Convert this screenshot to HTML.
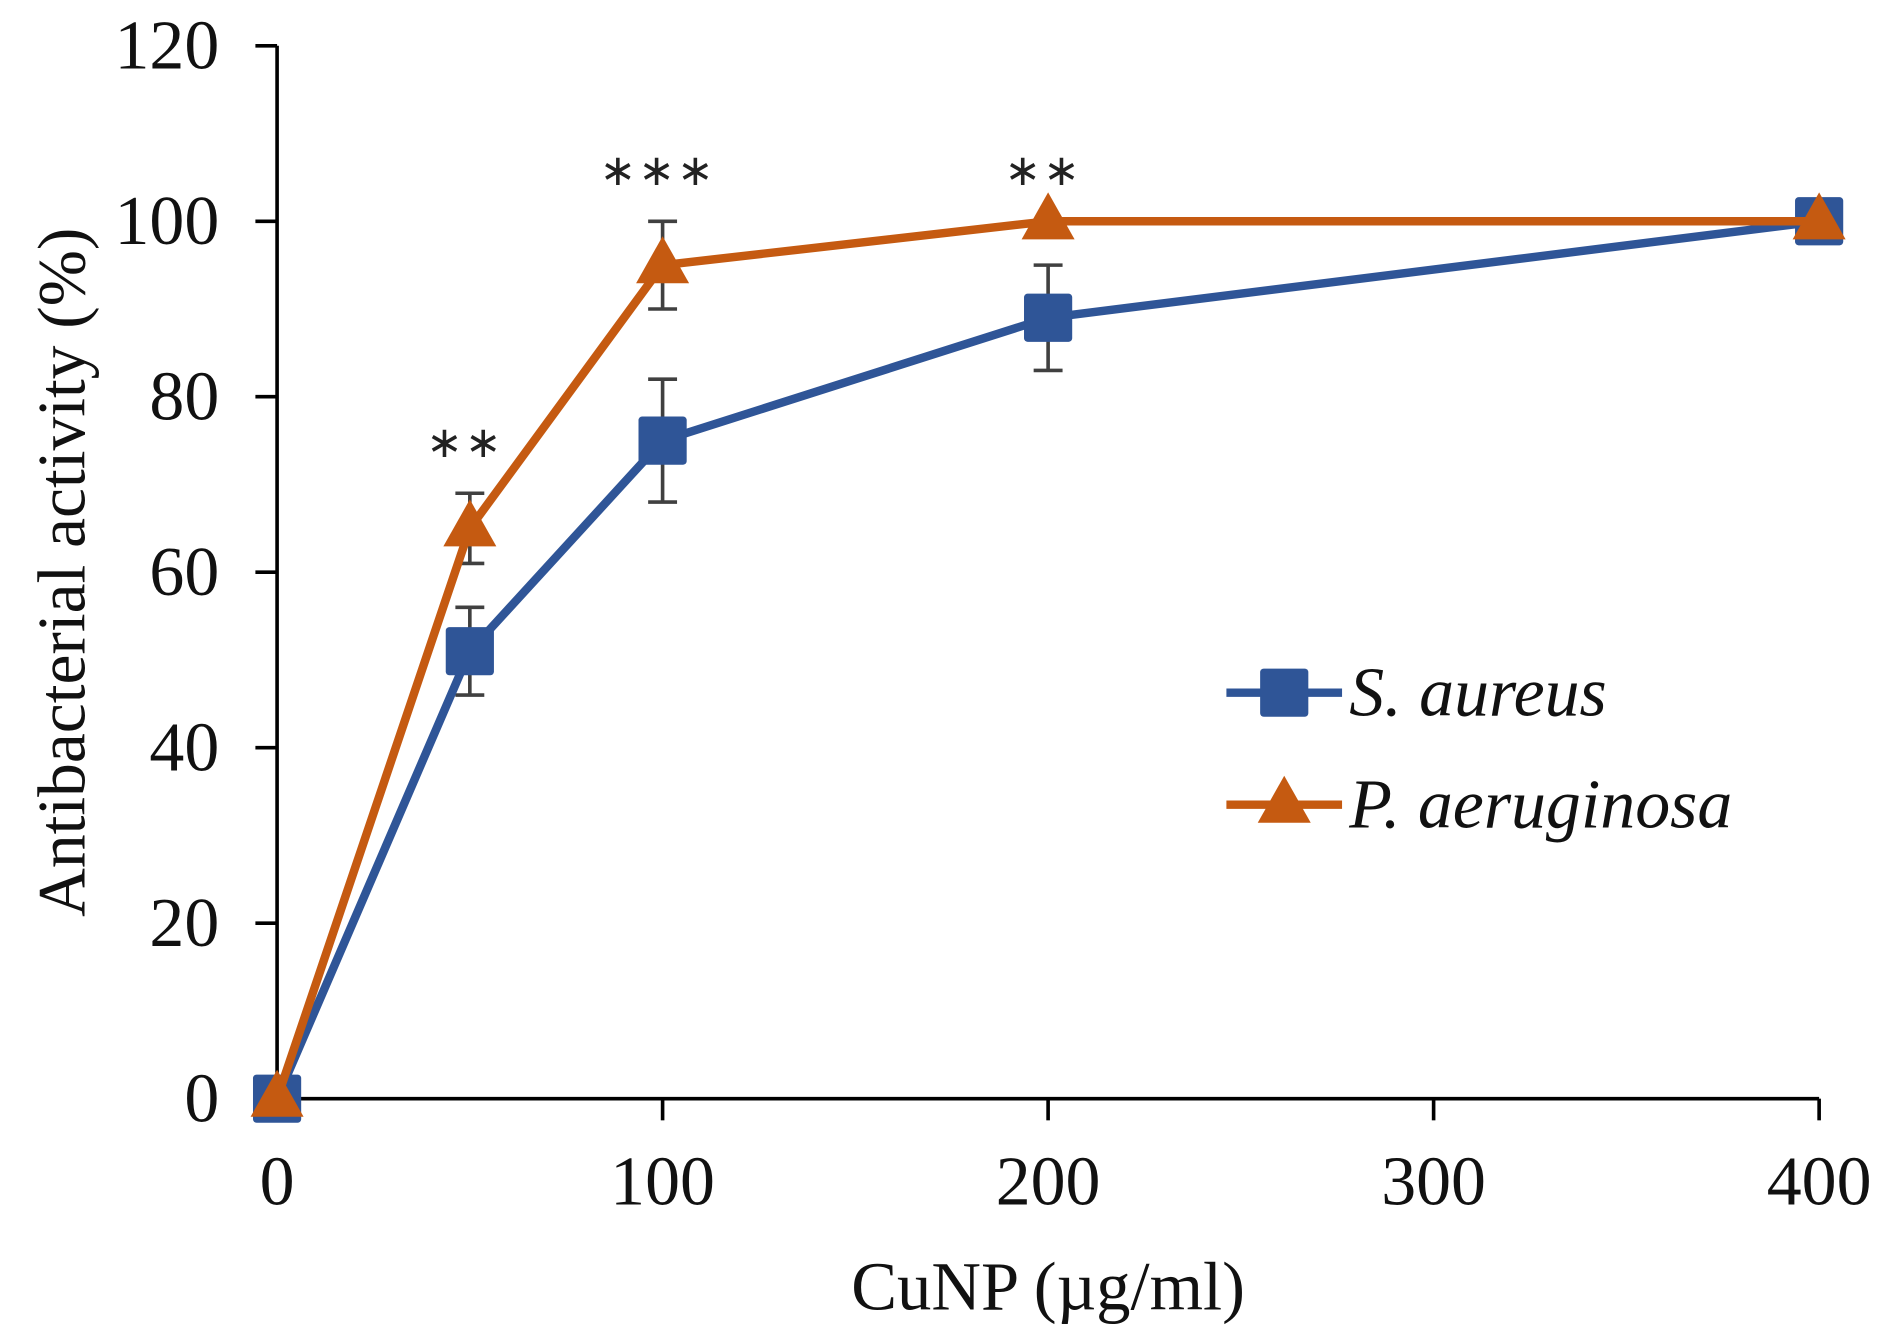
<!DOCTYPE html>
<html><head><meta charset="utf-8"><style>html,body{margin:0;padding:0;background:#fff}svg{display:block}</style></head>
<body>
<svg id="chart" width="1889" height="1342" viewBox="0 0 1568 1114" preserveAspectRatio="none" xmlns="http://www.w3.org/2000/svg" font-family="'Liberation Serif', serif"></svg>
<script>
const xCats = [0, 50, 100, 200, 400];
const saVals = [0, 51, 75, 89, 100];
const saErr = [0, 5, 7, 6, 0];
const paVals = [0, 65, 95, 100, 100];
const paErr = [0, 4, 5, 0, 0];
const sigLabels = ["", "**", "***", "**", ""];
const yTicks = [0, 20, 40, 60, 80, 100, 120];
const xTicks = [0, 100, 200, 300, 400];

const svg = document.getElementById('chart');
const NS = 'http://www.w3.org/2000/svg';
const X0 = 230, X1 = 1510, Y0 = 912, Y1 = 38;
const xs = v => X0 + (v / 400) * (X1 - X0);
const ys = v => Y0 - (v / 120) * (Y0 - Y1);
function mk(tag, attrs, parent) {
  const e = document.createElementNS(NS, tag);
  for (const k in attrs) e.setAttribute(k, attrs[k]);
  (parent || svg).appendChild(e);
  return e;
}
const yAxis = mk('line', {x1: X0, y1: Y1, x2: X0, y2: Y0, stroke: '#000', 'stroke-width': 3});


const xAxis = mk('line', {x1: X0, y1: Y0, x2: X1, y2: Y0, stroke: '#000', 'stroke-width': 3});


yTicks.forEach(t => {
  mk('line', {x1: X0 - 18, y1: ys(t), x2: X0, y2: ys(t), stroke: '#000', 'stroke-width': 3});
  const tx = mk('text', {x: 182, y: ys(t) + 19, 'text-anchor': 'end', 'font-size': 58, fill: '#111'});
  tx.textContent = t;
  
  
});
xTicks.forEach(t => {
  mk('line', {x1: xs(t), y1: Y0, x2: xs(t), y2: Y0 + 18, stroke: '#000', 'stroke-width': 3});
  const tx = mk('text', {x: xs(t), y: 1000, 'text-anchor': 'middle', 'font-size': 58, fill: '#111'});
  tx.textContent = t;
  
  
});
const xt = mk('text', {x: 870, y: 1087, 'text-anchor': 'middle', 'font-size': 57, fill: '#111'});
xt.textContent = 'CuNP (µg/ml)';


const yt = mk('text', {x: 0, y: 0, 'text-anchor': 'middle', 'font-size': 56, fill: '#111', transform: 'translate(70,475) rotate(-90)'});
yt.textContent = 'Antibacterial activity (%)';



function errBars(vals, errs) {
  vals.forEach((v, i) => {
    if (!errs[i]) return;
    const x = xs(xCats[i]);
    mk('line', {x1: x, y1: ys(v + errs[i]), x2: x, y2: ys(v - errs[i]), stroke: '#404040', 'stroke-width': 3});
    mk('line', {x1: x - 12, y1: ys(v + errs[i]), x2: x + 12, y2: ys(v + errs[i]), stroke: '#404040', 'stroke-width': 3});
    mk('line', {x1: x - 12, y1: ys(v - errs[i]), x2: x + 12, y2: ys(v - errs[i]), stroke: '#404040', 'stroke-width': 3});
  });
}
errBars(saVals, saErr);
errBars(paVals, paErr);

function series(vals, color, name, marker) {
  const pts = vals.map((v, i) => xs(xCats[i]) + ',' + ys(v)).join(' ');
  const pl = mk('polyline', {points: pts, fill: 'none', stroke: color, 'stroke-width': 7, 'stroke-linejoin': 'round'});
  
  
  vals.forEach((v, i) => {
    const m = marker(xs(xCats[i]), ys(v));
    
    
  });
}
const sq = color => (x, y) => mk('rect', {x: x - 20, y: y - 20, width: 40, height: 40, fill: color, rx: 3});
const tri = color => (x, y) => mk('polygon', {points: `${x},${y - 24} ${x - 22},${y + 15} ${x + 22},${y + 15}`, fill: color});
series(saVals, '#2f5597', 's-aureus', sq('#2f5597'));
series(paVals, '#c55a11', 'p-aeruginosa', tri('#c55a11'));

sigLabels.forEach((s, i) => {
  if (!s) return;
  const top = Math.max(saVals[i] + saErr[i], paVals[i] + paErr[i]);
  const t = mk('text', {x: xs(xCats[i]) - 4, y: ys(top) - 30, 'text-anchor': 'middle', 'font-size': 36, fill: '#222', 'letter-spacing': 2});
  t.textContent = s.split('').map(() => '∗').join('');
  
  
});

const lg = mk('g', {});


[['S. aureus', '#2f5597', 575, 'sq'], ['P. aeruginosa', '#c55a11', 668, 'tri']].forEach(([lab, c, y, m]) => {
  mk('line', {x1: 1018, y1: y, x2: 1114, y2: y, stroke: c, 'stroke-width': 7}, lg);
  if (m === 'sq') mk('rect', {x: 1046, y: y - 20, width: 40, height: 40, fill: c, rx: 3}, lg);
  else mk('polygon', {points: `1066,${y - 24} 1044,${y + 15} 1088,${y + 15}`, fill: c}, lg);
  const t = mk('text', {x: 1120, y: y + 19, 'font-size': 58, 'font-style': 'italic', fill: '#111'}, lg);
  t.textContent = lab;
  
  
});
</script>
</body></html>
